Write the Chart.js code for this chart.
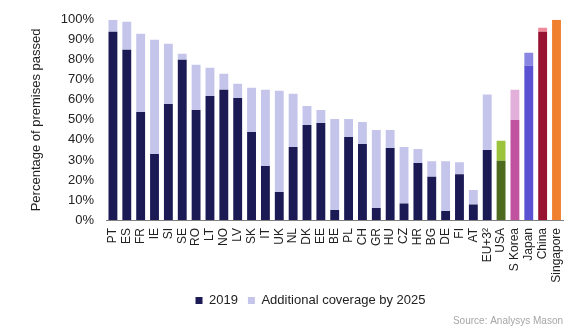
<!DOCTYPE html>
<html>
<head>
<meta charset="utf-8">
<script src="https://cdn.jsdelivr.net/npm/chart.js@4/dist/chart.umd.min.js"></script>
<style>
  html, body { margin: 0; padding: 0; background: #ffffff; }
  #wrap { position: relative; width: 579px; height: 336px; }
</style>
</head>
<body>
<div id="wrap"><canvas id="c" width="579" height="336"></canvas></div>
<script>
const categories = ['PT','ES','FR','IE','SI','SE','RO','LT','NO','LV','SK','IT','UK','NL','DK','EE','BE','PL','CH','GR','HU','CZ','HR','BG','DE','FI','AT','EU+3²','USA','S Korea','Japan','China','Singapore'];
const coverage2019 = [94,85,54,33,58,80,55,62,65,61,44,27,14,36.5,47.5,48.5,5,41.5,38,6,36,8.3,28.5,21.6,4.5,22.8,7.8,35,29.6,50,77,94,100];
const additional2025 = [6,14,39,57,30,3,22.5,14,8,7,22,38,50.5,26.5,9.5,6.5,45.5,9,11,39,9,28.2,7,7.7,24.8,6,7.2,27.7,10,15,6.5,2,0];
const yTicks = [0,10,20,30,40,50,60,70,80,90,100];

const NAVY = '#1b1a55', LAV = '#c5c5ec';
const darkColors = categories.map(c => ({'USA':'#4e6a1e','S Korea':'#c052a0','Japan':'#5a52d2','China':'#981232','Singapore':'#f07f2e'}[c] || NAVY));
const lightColors = categories.map(c => ({'USA':'#9bc43c','S Korea':'#e2b0da','Japan':'#8886e2','China':'#f0899a','Singapore':'#f07f2e'}[c] || LAV));

const sourcePlugin = {
  id: 'source',
  afterLayout(chart) {
    if (chart.legend) { chart.legend.left += 12; chart.legend.right += 12; }
  },
  afterDraw(chart) {
    const ctx = chart.ctx;
    ctx.save();
    ctx.font = '10px "Liberation Sans", Arial, sans-serif';
    ctx.fillStyle = '#a6a6a6';
    ctx.textAlign = 'right';
    ctx.textBaseline = 'middle';
    ctx.fillText('Source: Analysys Mason', 563, 321);
    ctx.restore();
  }
};

new Chart(document.getElementById('c'), {
  type: 'bar',
  data: {
    labels: categories,
    datasets: [
      { label: '2019', data: coverage2019, backgroundColor: darkColors, borderWidth: 0 },
      { label: 'Additional coverage by 2025', data: additional2025, backgroundColor: lightColors, borderWidth: 0 }
    ]
  },
  options: {
    responsive: false,
    animation: false,
    devicePixelRatio: 1,
    layout: { padding: { left: 24, right: 6, top: 19, bottom: 19 } },
    datasets: { bar: { categoryPercentage: 1, barPercentage: 0.64 } },
    scales: {
      x: {
        stacked: true,
        grid: { display: false, drawTicks: false },
        border: { display: true, color: '#7f7f7f', width: 1 },
        ticks: {
          autoSkip: false, maxRotation: 90, minRotation: 90, padding: 8,
          color: '#222222', font: { family: '"Liberation Sans", Arial, sans-serif', size: 12 }
        },
        afterFit(scale) { scale.height = 64; }
      },
      y: {
        stacked: true,
        min: 0, max: 100,
        afterBuildTicks(scale) { scale.ticks = yTicks.map(v => ({ value: v })); },
        grid: { display: false, drawTicks: false },
        border: { display: false },
        ticks: {
          padding: 12, color: '#222222',
          font: { family: '"Liberation Sans", Arial, sans-serif', size: 13 },
          callback: v => v + '%'
        },
        title: {
          display: true, text: 'Percentage of premises passed', color: '#222222',
          padding: { top: 5, bottom: 4 },
          font: { family: '"Liberation Sans", Arial, sans-serif', size: 13 }
        },
        afterFit(scale) { scale.width = 82; }
      }
    },
    plugins: {
      tooltip: { enabled: false },
      legend: {
        position: 'bottom',
        labels: {
          boxWidth: 7, boxHeight: 7, padding: 10, color: '#222222',
          font: { family: '"Liberation Sans", Arial, sans-serif', size: 13 },
          generateLabels(chart) {
            const cols = [NAVY, LAV];
            return Chart.defaults.plugins.legend.labels.generateLabels(chart).map((l, i) => Object.assign(l, { fillStyle: cols[i], strokeStyle: cols[i], lineWidth: 0 }));
          }
        }
      }
    }
  },
  plugins: [sourcePlugin]
});
</script>
</body>
</html>
